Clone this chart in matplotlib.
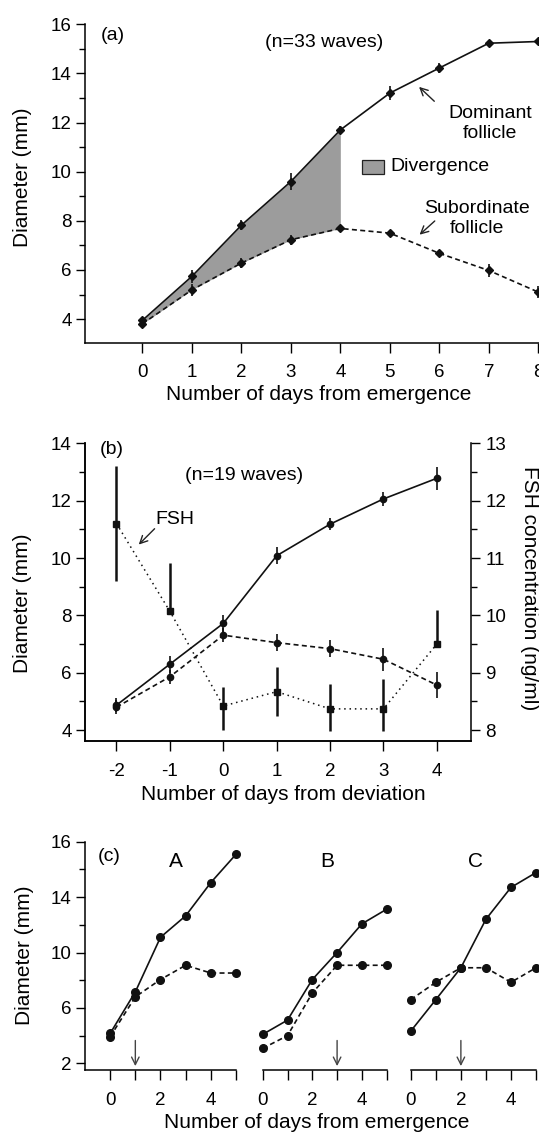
import numpy as np
import matplotlib
matplotlib.use('Agg')
from matplotlib import pyplot as plt
from matplotlib.patches import Rectangle
from matplotlib.ticker import MultipleLocator, FixedLocator, FixedFormatter

plt.rcParams['font.family'] = ['Liberation Sans', 'DejaVu Sans']
plt.rcParams['font.size'] = 13.5
plt.rcParams['axes.linewidth'] = 1.1
plt.rcParams['axes.unicode_minus'] = False
plt.rcParams['xtick.direction'] = 'out'
plt.rcParams['ytick.direction'] = 'out'

# (a) mean diameters, days from emergence
days_a = [0, 1, 2, 3, 4, 5, 6, 7, 8]
dom_a = [3.95, 5.74, 7.82, 9.6, 11.7, 13.2, 14.22, 15.23, 15.3]
dom_a_err = [0.15, 0.27, 0.2, 0.34, 0.15, 0.3, 0.2, 0.1, 0.1]
sub_a = [3.81, 5.19, 6.28, 7.23, 7.69, 7.5, 6.68, 5.98, 5.1]
sub_a_err = [0.1, 0.25, 0.2, 0.2, 0.15, 0.1, 0.15, 0.25, 0.25]

# (b) days from deviation, diameters and FSH
days_b = [-2, -1, 0, 1, 2, 3, 4]
dom_b = [4.87, 6.3, 7.72, 10.08, 11.18, 12.06, 12.78]
dom_b_err = [0.25, 0.3, 0.3, 0.3, 0.2, 0.25, 0.4]
sub_b = [4.8, 5.86, 7.31, 7.05, 6.84, 6.47, 5.57]
sub_b_err = [0.25, 0.25, 0.25, 0.3, 0.3, 0.4, 0.45]
fsh_b = [11.6, 10.07, 8.42, 8.67, 8.37, 8.37, 9.5]
fsh_lo = [1.0, 0.0, 0.42, 0.42, 0.39, 0.39, 0.0]
fsh_hi = [1.0, 0.84, 0.33, 0.43, 0.44, 0.52, 0.59]

# (c) three individual waves
days_c = [0, 1, 2, 3, 4, 5]
waves = ['A', 'B', 'C']
dom_c = {'A': [4.16, 7.16, 11.1, 12.65, 15.05, 17.09],
         'B': [4.09, 5.12, 8.05, 10.0, 12.07, 13.13],
         'C': [4.33, 6.6, 8.9, 12.4, 14.7, 15.77]}
sub_c = {'A': [3.92, 6.8, 8.05, 9.08, 8.52, 8.52],
         'B': [3.08, 4.0, 7.08, 9.08, 9.08, 9.08],
         'C': [6.6, 7.85, 8.9, 8.9, 7.85, 8.9]}
deviation_day = {'A': 1, 'B': 3, 'C': 2}

W, H = 539, 1132
fig = plt.figure(figsize=(W / 100, H / 100), dpi=100)


def px_axes(left, top, right, bottom):
    return fig.add_axes([left / W, 1 - bottom / H, (right - left) / W, (bottom - top) / H])


def px_text(x, y, s, **kw):
    fig.text(x / W, 1 - y / H, s, ha='center', va='center', **kw)


def style(ax, left=True):
    ax.spines['top'].set_visible(False)
    ax.spines['right'].set_visible(False)
    if not left:
        ax.spines['left'].set_visible(False)
        ax.tick_params(axis='y', which='both', left=False, labelleft=False)
    ax.tick_params(axis='x', length=7.5, width=1.0, pad=8)
    ax.tick_params(axis='y', which='major', length=6.5, width=1.0, pad=3)
    ax.tick_params(axis='y', which='minor', length=4, width=1.0)


lw = 1.2
dash = (0, (3, 2))
dot = (0, (1, 2.5))
ink = '#111111'

# ---- panel (a)
ax = px_axes(85, 24.3, 563, 342.7)
style(ax)
ax.fill_between(days_a[:5], sub_a[:5], dom_a[:5], color='#9c9c9c', lw=0)
ax.errorbar(days_a, dom_a, yerr=dom_a_err, color=ink, lw=lw, marker='D', ms=4.2,
            elinewidth=1.2, capsize=0)
ax.errorbar(days_a, sub_a, yerr=sub_a_err, color=ink, lw=lw, ls=dash, marker='D', ms=4.2,
            elinewidth=1.2, capsize=0)
ax.set_xlim(-1.16, 8.5)
ax.set_ylim(3.04, 16)
ax.set_xticks(days_a)
ax.yaxis.set_major_locator(MultipleLocator(2))
ax.yaxis.set_minor_locator(MultipleLocator(1))
ax.text(-0.85, 15.56, '(a)', fontsize=14, ha='left', va='center')
ax.text(3.68, 15.24, '(n=33 waves)', fontsize=14, ha='center', va='center')
ax.text(7.03, 12.38, 'Dominant', fontsize=14, ha='center', va='center')
ax.text(7.03, 11.54, 'follicle', fontsize=14, ha='center', va='center')
ax.annotate('', xy=(5.55, 13.53), xytext=(5.94, 12.79),
            arrowprops=dict(arrowstyle='->', color='#222222', lw=1.0))
ax.add_patch(Rectangle((4.44, 9.91), 0.45, 0.57, facecolor='#9c9c9c', edgecolor='#222222', lw=0.9))
ax.text(5.01, 10.2, 'Divergence', fontsize=14, ha='left', va='center')
ax.text(6.77, 8.51, 'Subordinate', fontsize=14, ha='center', va='center')
ax.text(6.77, 7.7, 'follicle', fontsize=14, ha='center', va='center')
ax.annotate('', xy=(5.56, 7.36), xytext=(5.95, 8.07),
            arrowprops=dict(arrowstyle='->', color='#222222', lw=1.0))
px_text(23, 177, 'Diameter (mm)', fontsize=15, rotation=90)
px_text(319, 394, 'Number of days from emergence', fontsize=15)

# ---- panel (b)
ax = px_axes(85, 443.3, 471, 741)
style(ax)
ax.errorbar(days_b, dom_b, yerr=dom_b_err, color=ink, lw=lw, marker='o', ms=4.5,
            elinewidth=1.2, capsize=0)
ax.errorbar(days_b, sub_b, yerr=sub_b_err, color=ink, lw=lw, ls=dash, marker='o', ms=4.5,
            elinewidth=1.2, capsize=0)
ax.set_xlim(-2.59, 4.64)
ax.set_ylim(3.62, 14)
ax.set_xticks(days_b)
ax.yaxis.set_major_locator(MultipleLocator(2))
ax.yaxis.set_minor_locator(MultipleLocator(1))
ax.text(-2.31, 13.77, '(b)', fontsize=14, ha='left', va='center')
ax.text(0.39, 12.87, '(n=19 waves)', fontsize=14, ha='center', va='center')
ax.text(-0.91, 11.33, 'FSH', fontsize=14, ha='center', va='center')
ax.annotate('', xy=(-1.62, 10.4), xytext=(-1.25, 11.09),
            arrowprops=dict(arrowstyle='->', color='#222222', lw=1.0))

ax2 = ax.twinx()
ax2.spines['top'].set_visible(False)
ax2.errorbar(days_b, fsh_b, yerr=[fsh_lo, fsh_hi], color=ink, lw=1.1, ls=dot, marker='s',
             ms=4.5, elinewidth=1.8, capsize=0)
ax2.set_ylim(7.81, 13)
ax2.yaxis.set_major_locator(MultipleLocator(1))
ax2.yaxis.set_minor_locator(MultipleLocator(0.5))
ax2.tick_params(axis='y', which='major', length=6.5, width=1.0, pad=4)
ax2.tick_params(axis='y', which='minor', length=4, width=1.0)
px_text(23, 603, 'Diameter (mm)', fontsize=15, rotation=90)
px_text(530, 588, 'FSH concentration (ng/ml)', fontsize=15, rotation=270)
px_text(283.7, 794.4, 'Number of days from deviation', fontsize=15)

# ---- panel (c)
boxes = {'A': (85, 236), 'B': (262.7, 386.7), 'C': (410.8, 536)}
for w in waves:
    left, right = boxes[w]
    ax = px_axes(left, 841.7, right, 1070)
    style(ax, left=(w == 'A'))
    ax.plot(days_c, dom_c[w], color=ink, lw=lw, marker='o', ms=5.5, clip_on=False)
    ax.plot(days_c, sub_c[w], color=ink, lw=lw, ls=dash, marker='o', ms=5.5, clip_on=False)
    ax.set_xlim(-1 if w == 'A' else 0, 5)
    ax.set_ylim(1.52, 18)
    ax.set_xticks(days_c)
    ax.set_xticklabels([str(d) if d % 2 == 0 else '' for d in days_c])
    ax.yaxis.set_major_locator(FixedLocator([2, 6, 10, 14, 18]))
    ax.yaxis.set_major_formatter(FixedFormatter(['2', '6', '10', '14', '16']))
    ax.yaxis.set_minor_locator(FixedLocator([4, 8, 12, 16]))
    ax.text(2.6, 16.56, w, fontsize=15, ha='center', va='center')
    d = deviation_day[w]
    ax.annotate('', xy=(d, 1.6), xytext=(d, 3.85),
                arrowprops=dict(arrowstyle='->', color='#444444', lw=1.0))
    if w == 'A':
        ax.text(-0.48, 16.9, '(c)', fontsize=14, ha='left', va='center')
px_text(25, 955, 'Diameter (mm)', fontsize=15, rotation=90)
px_text(317, 1123, 'Number of days from emergence', fontsize=15)

fig.savefig('out.png', dpi=100)
